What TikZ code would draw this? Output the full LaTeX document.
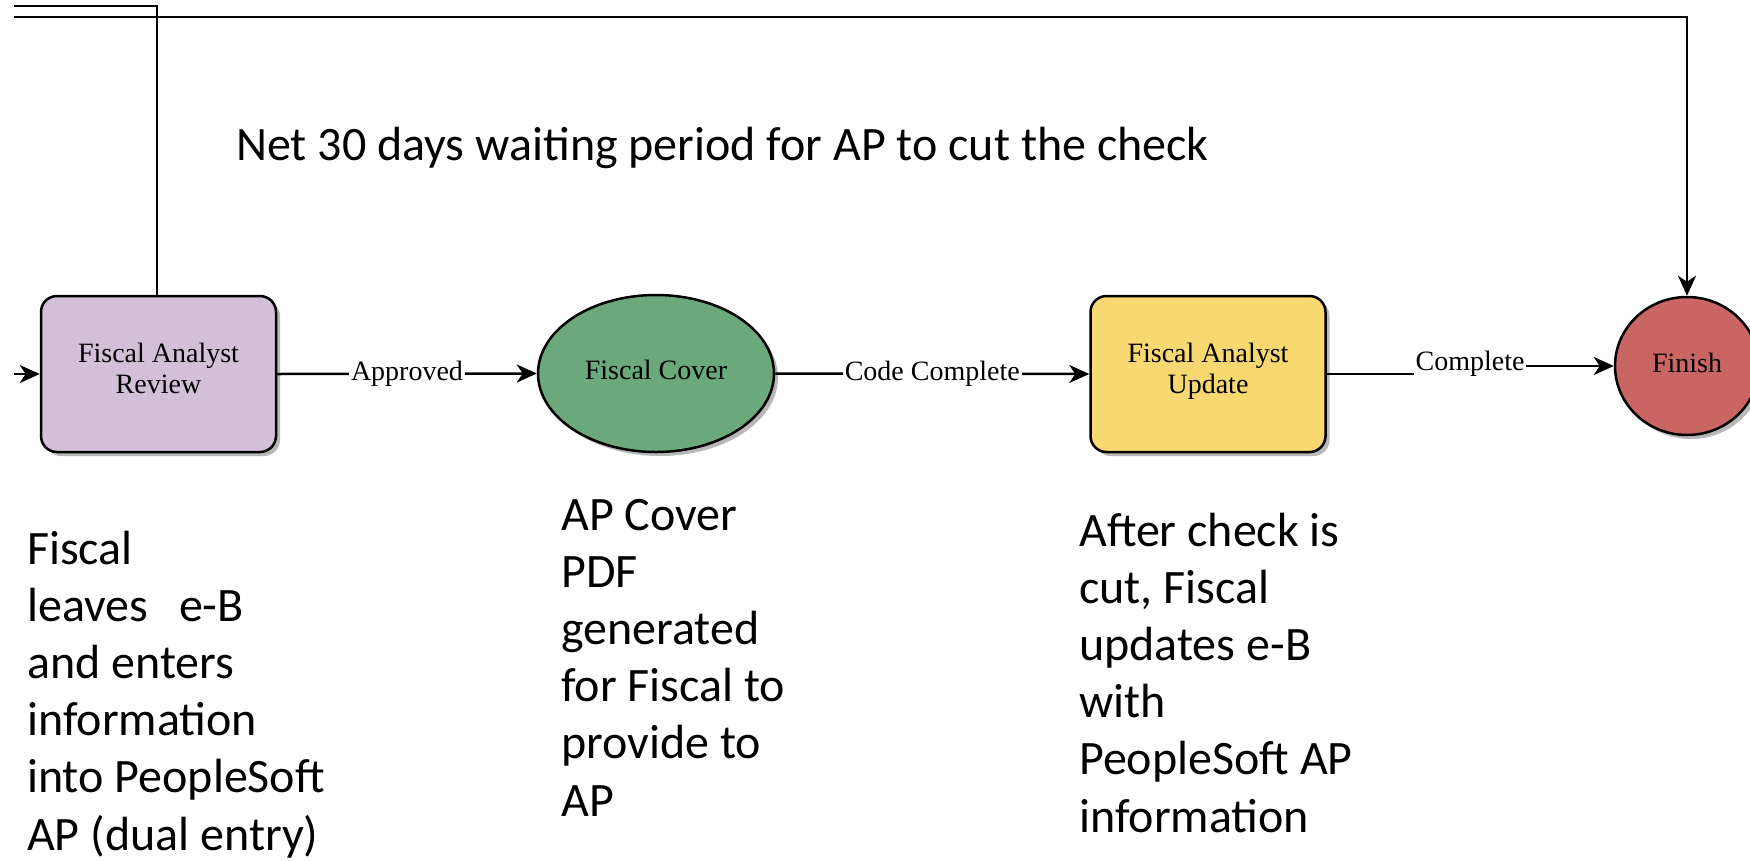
\documentclass[tikz,border=0pt]{standalone}
\usepackage{fontspec}
\setmainfont{Liberation Serif}
\newfontfamily\calib{Carlito}
\usetikzlibrary{shapes.geometric,shadows,arrows.meta}
\definecolor{cpurple}{RGB}{212,191,216}
\definecolor{cgreen}{RGB}{107,168,124}
\definecolor{cyellow}{RGB}{248,216,112}
\definecolor{cred}{RGB}{201,101,99}
\begin{document}
\begin{tikzpicture}[x=1pt,y=-1pt,
  line/.style={line width=2.5pt, draw=black},
  arr/.style={line, -{Stealth[length=20pt,width=18pt,inset=6pt]}},
  shad/.style={drop shadow={shadow xshift=4pt, shadow yshift=-4pt, fill=black!28, opacity=1}},
  proc/.style={draw, line width=2.5pt, rounded corners=16pt, minimum width=235pt, minimum height=156pt, inner sep=0pt, align=center, text depth=11pt, font=\fontsize{28}{31}\selectfont, shad},
  oval/.style={draw, line width=2.5pt, ellipse, inner sep=0pt, align=center, text depth=7pt, font=\fontsize{28}{31}\selectfont, shad},
  elabel/.style={fill=white, inner sep=2pt, font=\fontsize{28}{31}\selectfont},
  note/.style={anchor=base west, inner sep=0pt, font=\calib\fontsize{48}{57.2}\selectfont}
]
\useasboundingbox (0,0) rectangle (1750,860);
\fill[white] (0,0) rectangle (1750,860);

% nodes
\node[proc, fill=cpurple] (fa) at (158.5,374) {Fiscal Analyst\\Review};
\node[oval, fill=cgreen, minimum width=236pt, minimum height=157pt] (fc) at (656,373.5) {Fiscal Cover};
\node[proc, fill=cyellow] (fb) at (1208,374) {Fiscal Analyst\\Update};
\node[oval, fill=cred, minimum width=144pt, minimum height=138pt] (fin) at (1687,366) {Finish};

% free ends
\coordinate (la) at (14,6);
\coordinate (lax) at (157,0);
\coordinate (lb) at (14,17);
\coordinate (lin) at (14,374);
\coordinate (jog) at (1470,369);

% connectors
\draw[line] (la) -| (fa.north -| lax);
\draw[arr] (lb) -| (fin.north);
\draw[arr] (lin) -- (fa.west);
\draw[arr] (fa.east) -- node[elabel] (lap) {Approved} (fc.west);
\draw[arr] (fc.east) -- node[elabel] (lcc) {Code Complete} (fb.west);
\draw[arr] (fb.east) -| (jog) |- (fin.west);
\node[elabel] (lcomp) at (1470,364) {Complete};

% texts
\node[note] (title) at (236,160) {Net 30 days waiting period for AP to cut the check};
\node[note] (t1) at (27,564) {\parbox[t]{500pt}{\raggedright Fiscal\\leaves\hspace{20pt} e-B\\and enters\\information\\into PeopleSoft\\AP (dual entry)}};
\node[note] (t2) at (561,530) {\parbox[t]{500pt}{\raggedright AP Cover\\PDF\\generated\\for Fiscal to\\provide to\\AP}};
\node[note] (t3) at (1079,546) {\parbox[t]{500pt}{\raggedright After check is\\cut, Fiscal\\updates e-B\\with\\PeopleSoft AP\\information}};
\end{tikzpicture}
\end{document}
